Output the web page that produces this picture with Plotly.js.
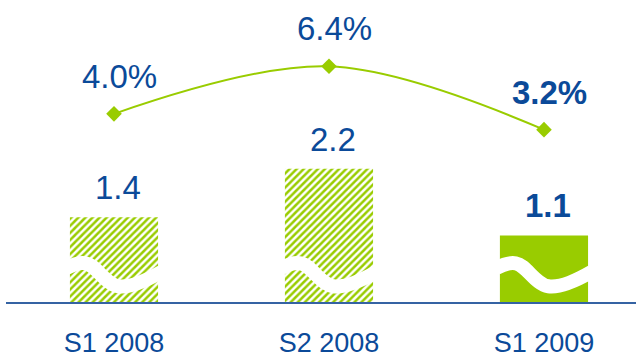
<!DOCTYPE html>
<html>
<head>
<meta charset="utf-8">
<script src="https://cdn.plot.ly/plotly-3.0.1.min.js"></script>
<style>html,body{margin:0;padding:0;background:#fff;}#chart{width:636px;height:360px;}</style>
</head>
<body>
<div id="chart"></div>
<script>
// ---- data ----
var categories = ['S1 2008', 'S2 2008', 'S1 2009'];
var barValues = [1.4, 2.2, 1.1];
var pctValues = [4.0, 6.4, 3.2];
var hatched = [true, true, false];

// ---- styling ----
var GREEN = '#99cc00';
var BLUE = '#0b4a99';
var FONT = 'Liberation Sans, Arial, sans-serif';
var BAR_W = 0.41;

var idx = categories.map(function (_, i) { return i; });
var traces = [];

traces.push({
  type: 'bar', x: idx, y: barValues, width: BAR_W,
  marker: {
    color: GREEN,
    line: {width: 0},
    pattern: {
      shape: hatched.map(function (h) { return h ? '/' : ''; }),
      fgcolor: GREEN, bgcolor: '#ffffff', size: 5, solidity: 0.5
    }
  },
  hoverinfo: 'none'
});

// axis-break wave (decoration) across each bar, in bar-relative units
var waveF = [-0.04, 0.18, 0.55, 1.04];
var waveH = [0.56, 0.64, 0.26, 0.50];
idx.forEach(function (i) {
  traces.push({
    type: 'scatter', mode: 'lines', hoverinfo: 'none',
    x: waveF.map(function (f) { return i - BAR_W / 2 + f * BAR_W; }),
    y: waveH,
    line: {color: '#ffffff', width: 14, shape: 'spline', smoothing: 1.1},
    cliponaxis: true
  });
});

traces.push({
  type: 'scatter', mode: 'lines+markers', x: idx, y: pctValues, yaxis: 'y2',
  line: {color: GREEN, width: 2, shape: 'spline', smoothing: 1},
  marker: {symbol: 'diamond', size: 12, color: GREEN},
  hoverinfo: 'none', cliponaxis: false
});

var annotations = [];
idx.forEach(function (i) {
  var last = i === idx.length - 1;
  var p = pctValues[i].toFixed(1) + '%';
  var b = barValues[i].toFixed(1);
  annotations.push({
    x: i, y: pctValues[i], xref: 'x', yref: 'y2', showarrow: false,
    text: last ? '<b>' + p + '</b>' : p, yanchor: 'bottom', xanchor: 'center',
    xshift: 6, yshift: 17, font: {family: FONT, size: 33, color: BLUE}
  });
  annotations.push({
    x: i, y: barValues[i], xref: 'x', yref: 'y', showarrow: false,
    text: last ? '<b>' + b + '</b>' : b, yanchor: 'bottom', xanchor: 'center',
    xshift: 4, yshift: 9, font: {family: FONT, size: 33, color: BLUE}
  });
});

var layout = {
  width: 636, height: 360,
  margin: {l: 6, r: 0, t: 0, b: 58, pad: 0},
  paper_bgcolor: '#ffffff', plot_bgcolor: '#ffffff',
  showlegend: false,
  font: {family: FONT, color: BLUE},
  xaxis: {
    type: 'linear', range: [-0.5023, 2.428], tickmode: 'array',
    tickvals: idx, ticktext: categories, ticks: '',
    tickfont: {family: FONT, size: 27, color: BLUE},
    showgrid: false, zeroline: false, showline: true,
    linecolor: '#3563a3', linewidth: 2, ticklabelstandoff: 16, fixedrange: true
  },
  yaxis: {
    range: [0, 4.99], visible: false, showgrid: false, zeroline: false, fixedrange: true
  },
  yaxis2: {
    range: [-5.505, 9.75], overlaying: 'y', side: 'right', visible: false,
    showgrid: false, zeroline: false, fixedrange: true
  },
  annotations: annotations
};

Plotly.newPlot('chart', traces, layout, {displayModeBar: false, staticPlot: true});
</script>
</body>
</html>
